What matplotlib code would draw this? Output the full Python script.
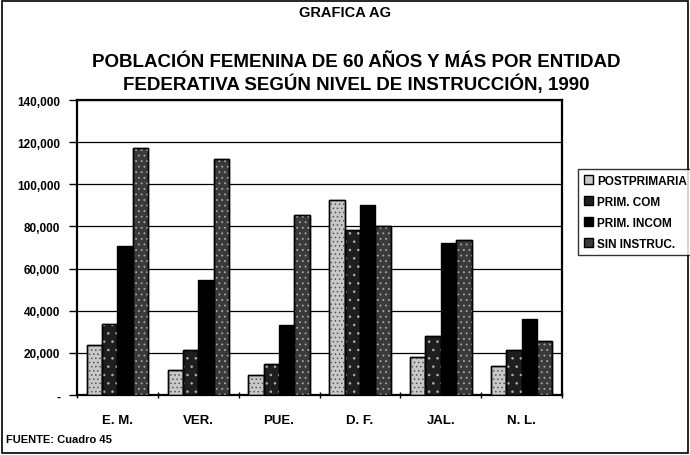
import numpy as np
import matplotlib.pyplot as plt
from matplotlib.ticker import FuncFormatter

plt.rcParams['font.family'] = ['Liberation Sans', 'DejaVu Sans']
plt.rcParams['hatch.linewidth'] = 0.6

# datos
entidades = ['E. M.', 'VER.', 'PUE.', 'D. F.', 'JAL.', 'N. L.']
series = ['POSTPRIMARIA', 'PRIM. COM', 'PRIM. INCOM', 'SIN INSTRUC.']
postprimaria = [23500, 11800, 9500, 92500, 17800, 13800]
prim_com = [33500, 21500, 14800, 78500, 28000, 21500]
prim_incom = [70500, 54500, 33000, 90000, 72000, 36000]
sin_instruc = [117000, 112000, 85500, 80000, 73500, 25500]
valores = [postprimaria, prim_com, prim_incom, sin_instruc]

colores = ['#c8c8c8', '#1e1e1e', '#000000', '#3a3a3a']
tramas = ['....', '..', None, '...']
colores_trama = ['#555555', '#b0b0b0', '#000000', '#a8a8a8']

fig = plt.figure(figsize=(6.9, 4.56), dpi=100)
ax = fig.add_axes([0.1116, 0.1316, 0.7030, 0.6469])

x = np.arange(len(entidades))
ancho = 0.19
for i, (nombre, vals) in enumerate(zip(series, valores)):
    pos = x + (i - 1.5) * ancho
    ax.bar(pos, vals, width=ancho, color=colores[i], edgecolor='black',
           linewidth=1.0, label=nombre, zorder=3)
    if tramas[i]:
        ax.bar(pos, vals, width=ancho, color='none', edgecolor=colores_trama[i],
               hatch=tramas[i], linewidth=0, zorder=3.5)
        ax.bar(pos, vals, width=ancho, color='none', edgecolor='black',
               linewidth=1.0, zorder=3.6)

ax.set_xlim(-0.5, len(entidades) - 0.5)
ax.set_ylim(0, 140000)
ax.set_yticks(np.arange(0, 140001, 20000))
ax.yaxis.set_major_formatter(FuncFormatter(lambda v, p: '-' if v == 0 else f'{int(v):,}'))
ax.grid(axis='y', color='black', linewidth=0.9, zorder=0)
ax.set_xticks(x)
ax.set_xticklabels(entidades, fontsize=9.5, fontweight='bold')
ax.set_xticks(np.arange(-0.5, len(entidades)), minor=True)
ax.tick_params(axis='x', which='major', length=0, pad=14)
ax.tick_params(axis='x', which='minor', length=5, direction='inout', width=1)
ax.tick_params(axis='y', labelsize=8.5, length=6, direction='out', width=1, pad=6)
for lbl in ax.get_yticklabels():
    lbl.set_fontweight('bold')
for s in ax.spines.values():
    s.set_linewidth(1.6)
    s.set_color('black')

ley = fig.legend(loc='upper left', bbox_to_anchor=(0.829, 0.64),
                 frameon=True, fancybox=False, edgecolor='black',
                 handlelength=0.8, handleheight=0.8, handletextpad=0.3,
                 labelspacing=0.75, borderpad=0.5, prop={'weight': 'bold', 'size': 8.5})
ley.get_frame().set_linewidth(1.0)

fig.text(0.5, 0.972, 'GRAFICA AG', ha='center', va='center', fontsize=10.5, fontweight='bold')
fig.text(0.516, 0.838, 'POBLACIÓN FEMENINA DE 60 AÑOS Y MÁS POR ENTIDAD\n'
         'FEDERATIVA SEGÚN NIVEL DE INSTRUCCIÓN, 1990',
         ha='center', va='center', fontsize=13.5, fontweight='bold', linespacing=1.2)
fig.text(0.008, 0.035, 'FUENTE: Cuadro 45', ha='left', va='center', fontsize=8, fontweight='bold')

fig.patches.append(plt.Rectangle((0.003, 0.005), 0.994, 0.99, transform=fig.transFigure,
                                 fill=False, edgecolor='black', linewidth=1.2))

fig.savefig('out.png', dpi=100)
